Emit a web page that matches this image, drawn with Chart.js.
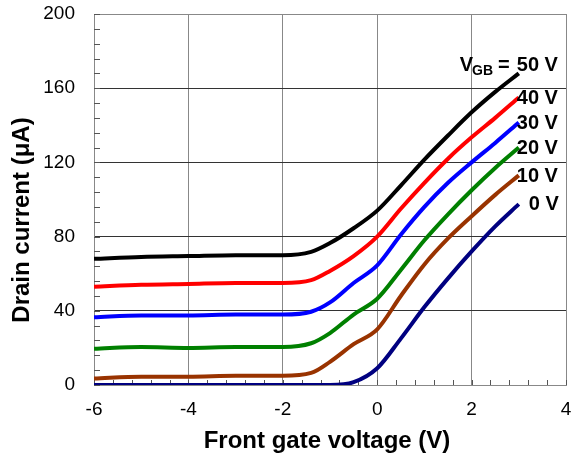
<!DOCTYPE html>
<html>
<head>
<meta charset="utf-8">
<script src="https://cdn.jsdelivr.net/npm/chart.js@4.4.1/dist/chart.umd.min.js"></script>
<style>
  body { margin: 0; background: #fff; }
  canvas { display: block; }
</style>
</head>
<body>
<canvas id="ivChart" width="572" height="460"></canvas>
<script>
// front gate voltage (V)
var gateVoltage = [-6, -5, -4, -3, -2, -1.4, -1, -0.5, 0, 0.5, 1, 1.5, 2, 2.5, 3];
// drain current (uA) for each back gate voltage
var vgb0  = [0, 0, 0, 0, 0, 0, 0, 1.5, 9, 25, 42, 57.5, 72, 85.5, 97.5];
var vgb10 = [3.5, 4.5, 4.5, 5, 5, 6.5, 12.5, 22, 30, 48, 65, 79, 91, 102.5, 113];
var vgb20 = [19.5, 20.5, 20, 20.5, 20.5, 22.5, 28, 38, 46.5, 62, 78, 92, 105, 117, 128];
var vgb30 = [36.5, 37.5, 37.5, 38, 38, 39.5, 44.5, 55, 64.5, 81, 96, 109, 120, 130.5, 141.5];
var vgb40 = [53, 54, 54.5, 55, 55, 56.5, 61.5, 69.5, 80, 95, 109, 122, 133.5, 144, 155];
var vgb50 = [68, 69, 69.5, 70, 70, 71.8, 76.5, 84.5, 94, 107.5, 121.5, 134.5, 147, 158, 168];

var seriesLabels = ['0 V', '10 V', '20 V', '30 V', '40 V', '50 V'];
var seriesData = [vgb0, vgb10, vgb20, vgb30, vgb40, vgb50];
var seriesColors = ['#000080', '#993300', '#008000', '#0000ff', '#ff0000', '#000000'];

var xTicks = [-6, -4, -2, 0, 2, 4];
var yTicks = [0, 40, 80, 120, 160, 200];

function points(values) {
    return values.map(function (v, i) { return { x: gateVoltage[i], y: v }; });
}

var datasets = seriesData.map(function (values, i) {
    return {
        label: seriesLabels[i],
        data: points(values),
        borderColor: seriesColors[i],
        backgroundColor: seriesColors[i],
        borderWidth: 4,
        pointRadius: 0,
        cubicInterpolationMode: 'monotone',
        fill: false
    };
});

// small inward ticks on both axes, and the axis titles
var axisDecor = {
    id: 'axisDecor',
    beforeDatasetsDraw: function (chart) {
        var c = chart.ctx, xs = chart.scales.x, ys = chart.scales.y;
        var area = chart.chartArea;
        c.save();
        c.strokeStyle = '#555';
        c.lineWidth = 1;
        c.beginPath();
        for (var v = 0; v <= 200; v += 8) {
            var py = Math.round(ys.getPixelForValue(v)) + 0.5;
            c.moveTo(area.left, py);
            c.lineTo(area.left + 6, py);
        }
        for (var k = 0; k <= 25; k++) {
            var px = Math.round(xs.getPixelForValue(-6 + k * 0.4)) + 0.5;
            c.moveTo(px, area.bottom);
            c.lineTo(px, area.bottom - 5);
        }
        c.stroke();
        c.restore();
    },
    afterDraw: function (chart) {
        var c = chart.ctx;
        c.save();
        c.fillStyle = '#000';
        c.font = 'bold 24px "Liberation Sans", Arial, sans-serif';
        c.textAlign = 'center';
        c.textBaseline = 'alphabetic';
        c.fillText('Front gate voltage (V)', 327, 448);
        c.translate(28.5, 220);
        c.rotate(-Math.PI / 2);
        c.fillText('Drain current (\u03bcA)', 0, 0);
        c.restore();
    }
};

// series names written at the end of each curve
var curveLabels = {
    id: 'curveLabels',
    afterDatasetsDraw: function (chart) {
        var c = chart.ctx;
        c.save();
        c.fillStyle = '#000';
        c.textBaseline = 'middle';
        c.textAlign = 'left';
        var font = 'bold 20px "Liberation Sans", Arial, sans-serif';
        chart.data.datasets.forEach(function (ds, i) {
            var meta = chart.getDatasetMeta(i);
            var end = meta.data[meta.data.length - 1];
            c.font = font;
            if (i === 0) {
                c.fillText(ds.label, end.x + 10, end.y);
            } else if (i === chart.data.datasets.length - 1) {
                var x0 = end.x - 2, y0 = end.y - 8;
                c.fillText(ds.label, x0, y0);
                var eqW = c.measureText('=').width;
                var eqX = x0 - eqW - 7;
                c.fillText('=', eqX, y0);
                c.font = 'bold 14px "Liberation Sans", Arial, sans-serif';
                var gbW = c.measureText('GB').width;
                var gbX = eqX - gbW - 5;
                c.fillText('GB', gbX, y0 + 6);
                c.font = font;
                var vW = c.measureText('V').width;
                c.fillText('V', gbX - vW + 1, y0);
            } else {
                c.fillText(ds.label, end.x - 2, end.y + 1);
            }
        });
        c.restore();
    }
};

var ctx = document.getElementById('ivChart').getContext('2d');
var ivChart = new Chart(ctx, {
    type: 'line',
    data: { datasets: datasets },
    plugins: [axisDecor, curveLabels],
    options: {
        responsive: false,
        animation: false,
        devicePixelRatio: 1,
        layout: { padding: { top: 14, right: 6, left: 0, bottom: 0 } },
        plugins: {
            legend: { display: false },
            tooltip: { enabled: false }
        },
        scales: {
            x: {
                type: 'linear',
                min: -6,
                max: 4,
                afterFit: function (scale) {
                    scale.height = 75;
                    scale.paddingLeft = 0;
                    scale.paddingRight = 0;
                },
                afterBuildTicks: function (scale) {
                    scale.ticks = xTicks.map(function (v) { return { value: v }; });
                },
                ticks: {
                    padding: 13,
                    color: '#000',
                    font: { family: '"Liberation Sans", Arial, sans-serif', size: 19 }
                },
                grid: { color: '#888', lineWidth: 1, drawTicks: false },
                border: { color: '#888', width: 1 }
            },
            y: {
                min: 0,
                max: 200,
                afterFit: function (scale) {
                    scale.width = 94;
                    scale.paddingTop = 0;
                    scale.paddingBottom = 0;
                },
                afterBuildTicks: function (scale) {
                    scale.ticks = yTicks.map(function (v) { return { value: v }; });
                },
                ticks: {
                    padding: 19,
                    color: '#000',
                    font: { family: '"Liberation Sans", Arial, sans-serif', size: 19 }
                },
                grid: {
                    color: function (c) { return c.tick && c.tick.value === 200 ? '#888' : '#333'; },
                    lineWidth: 1,
                    drawTicks: false
                },
                border: { color: '#888', width: 1 }
            }
        }
    }
});
</script>
</body>
</html>
